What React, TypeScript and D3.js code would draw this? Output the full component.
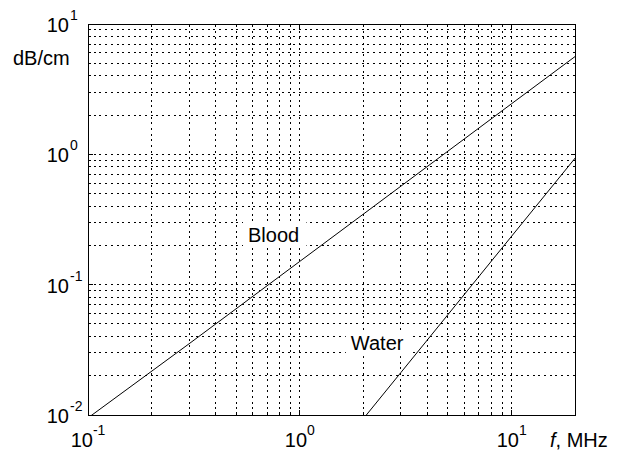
import React from 'react';
import * as d3 from 'd3';

// values (log-log attenuation vs frequency)
const bloodFreq = [0.1, 0.3, 1, 3, 10, 20];
const bloodAtten = [0.0095, 0.0352, 0.151, 0.57, 2.45, 5.66];
const waterFreq = [2.06, 3, 5, 10, 20];
const waterAtten = [0.01, 0.0212, 0.0589, 0.236, 0.943];

const xDecades = [0.1, 1, 10];
const yDecades = [0.01, 0.1, 1, 10];
const xExponents = ['-1', '0', '1'];
const yExponents = ['-2', '-1', '0', '1'];

const labels = [
  { text: 'Blood', f: 0.569, v: 0.213 },
  { text: 'Water', f: 1.74, v: 0.0315 },
];

const W = 627;
const H = 455;
const margin = { top: 24, right: 51.5, bottom: 40, left: 88 };
const FONT = '"Liberation Sans", Arial, Helvetica, sans-serif';

function App() {
  const x = d3.scaleLog().domain([0.1, 20]).range([margin.left, W - margin.right]);
  const y = d3.scaleLog().domain([0.01, 10]).range([H - margin.bottom, margin.top]);
  const [x0, x1] = x.range();
  const [y0, y1] = y.range();

  // every major + minor log tick inside the domain
  const xTicks: number[] = [];
  xDecades.forEach(d => { for (let k = 1; k <= 9; k++) { const t = d * k; if (t <= 20.0001) xTicks.push(t); } });
  const yTicks: number[] = [];
  yDecades.forEach(d => { for (let k = 1; k <= 9; k++) { const t = d * k; if (t <= 10.0001) yTicks.push(t); } });
  const isMajor = (t: number) => Math.abs(Math.log10(t) - Math.round(Math.log10(t))) < 1e-6;

  const line = d3.line<[number, number]>()
    .x(d => x(d[0]))
    .y(d => y(d[1]));

  const blood = bloodFreq.map((f, i) => [f, bloodAtten[i]] as [number, number]);
  const water = waterFreq.map((f, i) => [f, waterAtten[i]] as [number, number]);

  return (
    <div style={{ position: 'absolute', left: 0, top: 0 }}>
      <svg width={W} height={H} style={{ display: 'block', background: '#fff' }} fontFamily={FONT}>
        <defs>
          <clipPath id="plot">
            <rect x={x0} y={y1} width={x1 - x0} height={y0 - y1} />
          </clipPath>
        </defs>

        {/* dotted grid */}
        <g stroke="#000" strokeWidth={1} strokeDasharray="2,3.7" shapeRendering="crispEdges">
          {xTicks.map(t => (
            <line key={'gx' + t} x1={x(t)} x2={x(t)} y1={y0} y2={y1} />
          ))}
          {yTicks.map(t => (
            <line key={'gy' + t} x1={x0} x2={x1} y1={y(t)} y2={y(t)} />
          ))}
        </g>

        {/* curves */}
        <g clipPath="url(#plot)" fill="none" stroke="#000" strokeWidth={1}>
          <path d={line(blood) || ''} />
          <path d={line(water) || ''} />
        </g>

        {/* text labels with white backing */}
        {labels.map(l => (
          <g key={l.text}>
            <rect x={x(l.f) - 5} y={y(l.v) - 20} width={l.text.length * 11.5 + 6} height={26} fill="#fff" />
            <text x={x(l.f)} y={y(l.v)} fontSize={20}>{l.text}</text>
          </g>
        ))}

        {/* axes box and inward ticks */}
        <g stroke="#000" strokeWidth={1} shapeRendering="crispEdges">
          <rect x={x0} y={y1} width={x1 - x0} height={y0 - y1} fill="none" />
          {xTicks.map(t => {
            const len = isMajor(t) ? 5 : 3;
            return (
              <g key={'tx' + t}>
                <line x1={x(t)} x2={x(t)} y1={y0} y2={y0 - len} />
                <line x1={x(t)} x2={x(t)} y1={y1} y2={y1 + len} />
              </g>
            );
          })}
          {yTicks.map(t => {
            const len = isMajor(t) ? 5 : 3;
            return (
              <g key={'ty' + t}>
                <line x1={x0} x2={x0 + len} y1={y(t)} y2={y(t)} />
                <line x1={x1} x2={x1 - len} y1={y(t)} y2={y(t)} />
              </g>
            );
          })}
        </g>

        {/* x tick labels */}
        {xDecades.map((d, i) => (
          <text key={'lx' + d} x={x(d)} y={y0 + 32} textAnchor="middle" fontSize={20}>
            <tspan>10</tspan>
            <tspan dy={-12} fontSize={14}>{xExponents[i]}</tspan>
          </text>
        ))}

        {/* y tick labels */}
        {yDecades.map((d, i) => (
          <g key={'ly' + d}>
            <text x={x0 - 19} y={y(d) + 8} textAnchor="end" fontSize={20}>10</text>
            <text x={x0 - 18} y={y(d) - 4} fontSize={14}>{yExponents[i]}</text>
          </g>
        ))}

        {/* axis titles */}
        <text x={13} y={65} fontSize={20}>dB/cm</text>
        <text x={550} y={447} fontSize={20}>
          <tspan fontStyle="italic">f</tspan>, MHz
        </text>
      </svg>
    </div>
  );
}

export default App;
